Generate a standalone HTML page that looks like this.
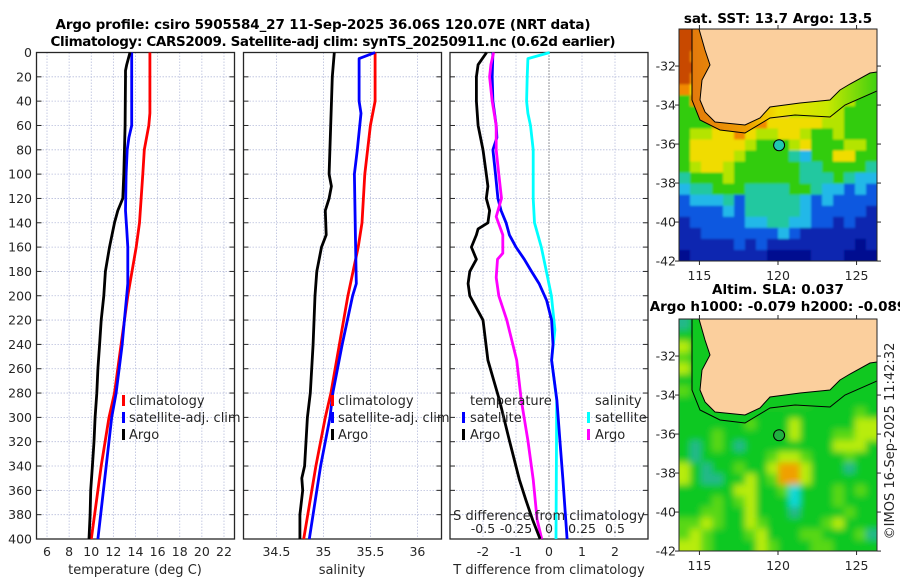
<!DOCTYPE html>
<html><head><meta charset="utf-8"><style>
html,body{margin:0;padding:0;background:#fff;}
svg{display:block;font-family:"DejaVu Sans","Liberation Sans",sans-serif;}
</style></head><body>
<svg id="fig" width="900" height="580" viewBox="0 0 900 580">
<defs>
<filter id="blur3" x="-5%" y="-5%" width="110%" height="110%"><feGaussianBlur stdDeviation="3.5"/></filter>
<filter id="blur1" x="-5%" y="-5%" width="110%" height="110%"><feGaussianBlur stdDeviation="1"/></filter>
<clipPath id="clipTop"><rect x="679" y="29" width="198" height="232"/></clipPath>
<clipPath id="clipBot"><rect x="679" y="319" width="198" height="232"/></clipPath>
<linearGradient id="bandGrad" x1="679" x2="877" y1="0" y2="0" gradientUnits="userSpaceOnUse">
<stop offset="0" stop-color="#e07010"/><stop offset="0.35" stop-color="#f0a000"/><stop offset="0.5" stop-color="#f0e000"/><stop offset="0.75" stop-color="#c8e800"/><stop offset="1" stop-color="#40d010"/>
</linearGradient>
</defs>
<text x="323" y="29" font-size="13.5" font-weight="bold" text-anchor="middle" fill="#000" textLength="535">Argo profile: csiro 5905584_27 11-Sep-2025 36.06S 120.07E (NRT data)</text>
<text x="333" y="46" font-size="13.5" font-weight="bold" text-anchor="middle" fill="#000" textLength="565">Climatology: CARS2009. Satellite-adj clim: synTS_20250911.nc (0.62d earlier)</text>
<text x="778" y="23" font-size="13.5" font-weight="bold" text-anchor="middle">sat. SST: 13.7 Argo: 13.5</text>
<text x="778" y="294" font-size="13.5" font-weight="bold" text-anchor="middle">Altim. SLA: 0.037</text>
<text x="778" y="311" font-size="13.5" font-weight="bold" text-anchor="middle">Argo h1000: -0.079 h2000: -0.089</text>
<text transform="translate(894,441) rotate(-90)" font-size="13" text-anchor="middle" fill="#262626">©IMOS 16-Sep-2025 11:42:32</text>
</svg>
<script>
// ---- profile data (depth in dbar) ----
const depthTicks=[0,20,40,60,80,100,120,140,160,180,200,220,240,260,280,300,320,340,360,380,400];
const tArgoDepth=[0,10,15,20,60,100,120,130,140,160,180,200,220,240,260,280,300,320,340,360,380,400];
const tArgo=[13.5,13.2,13.1,13.1,13.06,12.94,12.85,12.4,12.1,11.65,11.28,11.13,10.9,10.75,10.6,10.5,10.35,10.25,10.1,9.95,9.9,9.8];
const tClimDepth=[0,50,60,80,100,140,160,200,240,280,300,340,400];
const tClim=[15.3,15.3,15.2,14.8,14.66,14.36,14.06,13.3,12.7,12.1,11.6,10.9,10.0];
const tSatDepth=[0,60,70,80,100,130,145,160,190,200,220,240,280,300,340,400];
const tSat=[13.66,13.66,13.4,13.25,13.15,13.1,13.2,13.3,13.3,13.2,13.0,12.8,12.25,11.85,11.35,10.6];
const sArgoDepth=[0,20,100,110,120,130,150,160,180,200,240,280,300,340,350,360,380,400];
const sArgo=[35.116,35.095,35.06,35.085,35.06,35.02,35.03,34.98,34.93,34.91,34.89,34.86,34.83,34.8,34.77,34.78,34.75,34.75];
const sClimDepth=[0,40,60,100,140,160,200,240,280,300,340,400];
const sClim=[35.55,35.55,35.5,35.44,35.41,35.37,35.26,35.17,35.08,35.02,34.92,34.79];
const sSatDepth=[0,5,40,50,80,100,150,190,200,240,280,300,340,400];
const sSat=[35.55,35.38,35.38,35.4,35.36,35.33,35.34,35.35,35.31,35.2,35.1,35.07,34.97,34.85];
const dTArgoDepth=[0,10,20,40,60,80,100,110,120,130,140,145,150,160,170,180,190,200,220,253,286,319,351,368,384,400];
const dTArgo=[-1.89,-2.15,-2.2,-2.2,-2.15,-2.0,-1.9,-1.85,-1.9,-1.8,-1.85,-2.15,-2.2,-2.35,-2.2,-2.4,-2.45,-2.4,-2.0,-1.85,-1.5,-1.2,-0.9,-0.7,-0.5,-0.27];
const dTSatDepth=[0,20,40,60,70,80,100,120,130,140,150,160,170,180,190,204,220,240,253,286,319,351,400];
const dTSat=[-1.7,-1.72,-1.7,-1.6,-1.58,-1.7,-1.62,-1.55,-1.45,-1.3,-1.2,-1.0,-0.75,-0.53,-0.3,-0.07,0.08,0.12,0.08,0.24,0.33,0.42,0.55];
const dSArgoDepth=[0,10,20,40,60,80,100,120,135,150,165,170,185,200,220,253,286,319,351,384,400];
const dSArgo=[-0.42,-0.44,-0.45,-0.43,-0.4,-0.4,-0.38,-0.36,-0.4,-0.35,-0.35,-0.39,-0.4,-0.38,-0.32,-0.245,-0.21,-0.16,-0.12,-0.09,-0.055];
const dSSatDepth=[0,5,20,40,50,60,80,100,120,140,160,180,200,228,253,286,400];
const dSSat=[0.005,-0.16,-0.165,-0.17,-0.16,-0.14,-0.12,-0.12,-0.12,-0.11,-0.058,-0.02,0.018,0.045,0.02,0.058,0.053];
const tTicks=[6,8,10,12,14,16,18,20,22];
const sTicks=[34.5,35,35.5,36];
const dTicks=[-2,-1,0,1,2];
const dSTickLabels=["-0.5","-0.25","0","0.25","0.5"];
const dSTickVals=[-0.5,-0.25,0,0.25,0.5];
// ---- map data (coarse grids, rows north->south) ----
const sstGrid=[
"RROXXXXXXXXXXXXXXX","RROXXXXXXXXXXXXXXX","ROOXXXXXXXXXXXXXXX","RROLXXXXXXXXXXXXXX",
"ROOLXXXXXXXXXXXXLG","OYOOXXXXXXXXXXXLGG","GOOOXXXXXXXXXXLLGG","GGOOOXXXXXLLLYLGGG",
"GGGOOOOOYYYYYLLGGG","GLLYYOYLLYYLGGLGGG","GYYYYYLGGGLYGGGLLG","GYYYYLGGGGTCGGYYGG",
"GLYYLGGGGGGTTGGGGT","TGGGLGGGGGGTTTGTCC","CTTGGGTTTTGGTCCBCB","BCCCTBTTTTTCBCBBBB",
"BBBBCBTTTTTCBBBBBD","DBBBBBCCTTCCBBDBDD","DDBBBBBBBCBDDDDDDD","DDDDDBDBDDDDDDDDND",
"NDDDDDDDNNNNDDDNNN"];
const slaGrid=[
"TGXXXXXXXXXXXXXXXX","GGXXXXXXXXXXXXXXXX","YGXXXXXXXXXXXXXXXX","HGXXXXXXXXXXXXXXXX",
"YGXXXXXXXXXXXXXXGG","GGGXXXXXXXXXXXXGGG","HGGXXXXXXXXXXXGGGG","GGGGXXXXXXXXGGGGGG",
"GGGGGGGGGGGGGGGGHG","GGGGGGHGGGYGGGGGYY","GGGHGGGGGGYGGGHHYY","GTGHGTGGGGGGGGYYYG",
"GTGGGGGGHYYHGGGHGG","YGTGGHGGYOOYGGGTGG","YGTTGGYGHOOYGGGGGG","GGGGGYYGGHCGGGHGHG",
"GGGHGHYGGGCGGGHGGG","GGHHGGYGGGTGGGGHGG","HHYHGGYHGGGGGHYGGG","HYHGGGHYGGGHHGGGHT",
"YYHGGGGYHGGGHHGGGG"];
const latTicks=[-32,-34,-36,-38,-40,-42];
const lonTicks=[115,120,125];
const argoLon=120.07, argoLat=-36.06;

const NS="http://www.w3.org/2000/svg";
const svg=document.getElementById('fig');
function mk(tag,attrs,parent){const e=document.createElementNS(NS,tag);for(const k in attrs)e.setAttribute(k,attrs[k]);(parent||svg).appendChild(e);return e;}
const Y0=52.5,Y1=539;
function yD(d){return Y0+d*(Y1-Y0)/400;}
const panels=[
 {name:'temperature',x0:36.5,x1:234.5,lo:5.05,hi:22.95},
 {name:'salinity',x0:243.5,x1:441.5,lo:34.15,hi:36.256},
 {name:'difference',x0:450,x1:648,lo:-3,hi:3}];
function xf(p,v){return p.x0+(v-p.lo)/(p.hi-p.lo)*(p.x1-p.x0);}
function frame(p,ticks,labels){
  const g=mk('g',{});
  
  
  mk('rect',{x:p.x0,y:Y0,width:p.x1-p.x0,height:Y1-Y0,fill:'#fff'},g);
  ticks.forEach((t,i)=>{const x=xf(p,t);
    const l=mk('line',{x1:x,x2:x,y1:Y0,y2:Y1,stroke:'#b8bedc','stroke-width':0.8,'stroke-dasharray':'1.5,1.5'},g);
    
    if(labels){const tx=mk('text',{x:x,y:556,'font-size':12.5,'text-anchor':'middle',fill:'#262626'},g);tx.textContent=labels[i];
      }
  });
  depthTicks.forEach(d=>{const y=yD(d);
    if(d>0&&d<400)mk('line',{x1:p.x0,x2:p.x1,y1:y,y2:y,stroke:'#b8bedc','stroke-width':0.8,'stroke-dasharray':'1.5,1.5'},g);
    mk('line',{x1:p.x0,x2:p.x0+5,y1:y,y2:y,stroke:'#262626','stroke-width':1},g);
    mk('line',{x1:p.x1-5,x2:p.x1,y1:y,y2:y,stroke:'#262626','stroke-width':1},g);
  });
  mk('rect',{x:p.x0,y:Y0,width:p.x1-p.x0,height:Y1-Y0,fill:'none',stroke:'#262626','stroke-width':1.3},g);
  return g;
}
function line(p,vals,depths,color,name,scale){
  const pts=vals.map((v,i)=>xf(p,v*(scale||1)).toFixed(1)+','+yD(depths[i]).toFixed(1)).join(' ');
  const l=mk('polyline',{points:pts,fill:'none',stroke:color,'stroke-width':2.8,'stroke-linejoin':'round'});
  
  
}
function txt(x,y,s,name,opts){const t=mk('text',Object.assign({x:x,y:y,'font-size':13,fill:'#262626'},opts||{}));t.textContent=s;
  return t;}
function legBar(x,y,c,name){const r=mk('rect',{x:x,y:y-10,width:3,height:11,fill:c});}

const P1=panels[0],P2=panels[1],P3=panels[2];
frame(P1,tTicks,tTicks.map(String));
depthTicks.forEach(d=>{txt(32,yD(d)+4.5,String(d),'y-tick-label',{'text-anchor':'end','font-size':12.5});});
line(P1,tClim,tClimDepth,'#ff0000','temp-climatology-line');
line(P1,tSat,tSatDepth,'#0000ff','temp-satellite-line');
line(P1,tArgo,tArgoDepth,'#000','temp-argo-line');
txt(135,574,'temperature (deg C)','x-axis-title-temperature',{'text-anchor':'middle'});
frame(P2,sTicks,sTicks.map(String));
line(P2,sClim,sClimDepth,'#ff0000','sal-climatology-line');
line(P2,sSat,sSatDepth,'#0000ff','sal-satellite-line');
line(P2,sArgo,sArgoDepth,'#000','sal-argo-line');
txt(342,574,'salinity','x-axis-title-salinity',{'text-anchor':'middle'});
frame(P3,dTicks,dTicks.map(String));
const zl=mk('line',{x1:xf(P3,0),x2:xf(P3,0),y1:Y0,y2:Y1,stroke:'#444','stroke-width':1,'stroke-dasharray':'1,2'});

line(P3,dSSat,dSSatDepth,'#00ffff','sal-diff-satellite-line',4);
line(P3,dTSat,dTSatDepth,'#0000ff','temp-diff-satellite-line');
line(P3,dSArgo,dSArgoDepth,'#ff00ff','sal-diff-argo-line',4);
line(P3,dTArgo,dTArgoDepth,'#000','temp-diff-argo-line');
txt(549,574,'T difference from climatology','x-axis-title-tdiff',{'text-anchor':'middle'});
txt(549,520,'S difference from climatology','s-axis-title',{'text-anchor':'middle'});
dSTickVals.forEach((v,i)=>txt(xf(P3,v*4),533,dSTickLabels[i],'s-tick-label',{'text-anchor':'middle','font-size':12.5}));
legBar(122,405,'#ff0000','legend-climatology-marker');txt(129,405,'climatology','legend-climatology');
legBar(122,422,'#0000ff','legend-satellite-marker');txt(129,422,'satellite-adj. clim','legend-satellite');
legBar(122,439,'#000','legend-argo-marker');txt(129,439,'Argo','legend-argo');
legBar(331,405,'#ff0000','legend2-climatology-marker');txt(338,405,'climatology','legend2-climatology');
legBar(331,422,'#0000ff','legend2-satellite-marker');txt(338,422,'satellite-adj. clim','legend2-satellite');
legBar(331,439,'#000','legend2-argo-marker');txt(338,439,'Argo','legend2-argo');
txt(470,405,'temperature','legend3-temperature-header');
legBar(462,422,'#0000ff','legend3-tsat-marker');txt(470,422,'satellite','legend3-tsat');
legBar(462,439,'#000','legend3-targo-marker');txt(470,439,'Argo','legend3-targo');
txt(595,405,'salinity','legend3-salinity-header');
legBar(587,422,'#00ffff','legend3-ssat-marker');txt(595,422,'satellite','legend3-ssat');
legBar(587,439,'#ff00ff','legend3-sargo-marker');txt(595,439,'Argo','legend3-sargo');

// ---- maps ----
const MX0=679,MX1=877,LON0=113.7,LON1=126.3,LAT0=-30.1;
const sstCol={R:'#c84a00',O:'#f08a00',Y:'#f0dc00',L:'#b4e400',G:'#30cc10',T:'#20c8a0',C:'#20b8e8',B:'#1058e0',D:'#0828b0',N:'#001090',X:'#e8b060'};
const slaCol={G:'#10c820',H:'#58d818',Y:'#b8ec10',O:'#f0a000',T:'#20b88a',C:'#10d8d8',X:'#30c820'};
function lonX(l){return MX0+(l-LON0)/(LON1-LON0)*(MX1-MX0);}
function drawMap(top,grid,cols,name,dotColor,bandFill,blurId,clipId){
  const g=mk('g',{});
  const H=232, latY=lat=>top+(LAT0-lat)*19.5;
  const cw=(MX1-MX0)/grid[0].length, ch=H/grid.length;
  const cg=mk('g',{'clip-path':'url(#'+clipId+')'},g);
  const cells=mk('g',{filter:'url(#'+blurId+')'},cg);
  grid.forEach((row,r)=>{for(let c=0;c<row.length;c++){
    mk('rect',{x:(MX0+c*cw-(c==0?6:0)).toFixed(2),y:(top+r*ch-(r==0?6:0)).toFixed(2),width:(cw+0.5+(c==0||c==row.length-1?6:0)).toFixed(2),height:(ch+0.5+(r==0||r==grid.length-1?6:0)).toFixed(2),fill:cols[row[c]]},cells);}});
  const o=top-29;
  const coast=[[699,29],[705,50],[710,65],[702,80],[700,100],[705,112],[715,122],[745,125],[760,118],[770,107],[800,103],[830,100],[840,90],[850,84],[870,73],[877,72]];
  const iso=[[692,29],[692,100],[700,120],[720,130],[745,133],[770,118],[795,115],[830,117],[845,105],[877,91]];
  const cp=coast.map(p=>p[0]+','+(p[1]+o)).join(' ');
  const ip=iso.map(p=>p[0]+','+(p[1]+o)).join(' ');
  const band=mk('polygon',{points:cp+' '+iso.slice().reverse().map(p=>p[0]+','+(p[1]+o)).join(' '),fill:bandFill},cg);
  
  const land=mk('polygon',{points:cp+' 877,'+(29+o),fill:'#fbcf9d'},cg);
  
  mk('polyline',{points:cp,fill:'none',stroke:'#000','stroke-width':1},cg);
  mk('polyline',{points:ip,fill:'none',stroke:'#000','stroke-width':1},cg);
  const dot=mk('circle',{cx:lonX(argoLon),cy:latY(argoLat),r:5.5,fill:dotColor,stroke:'#000','stroke-width':1},g);
  
  mk('rect',{x:MX0,y:top,width:MX1-MX0,height:H,fill:'none',stroke:'#262626','stroke-width':1},g);
  latTicks.forEach(l=>{const y=latY(l);
    mk('line',{x1:MX0-4,x2:MX0,y1:y,y2:y,stroke:'#262626'},g);mk('line',{x1:MX1,x2:MX1+4,y1:y,y2:y,stroke:'#262626'},g);
    txt(676,y+4.5,String(l),'lat-tick-label',{'text-anchor':'end','font-size':12.5});});
  lonTicks.forEach(l=>{const x=lonX(l);
    mk('line',{x1:x,x2:x,y1:top+H,y2:top+H+4,stroke:'#262626'},g);mk('line',{x1:x,x2:x,y1:top-4,y2:top,stroke:'#262626'},g);
    txt(x,top+H+19,String(l),'lon-tick-label',{'text-anchor':'middle','font-size':12.5});});
}
drawMap(29,sstGrid,sstCol,'sst-map','#20c8b0','url(#bandGrad)','blur1','clipTop');
drawMap(319,slaGrid,slaCol,'sla-map','#20b040','#10c820','blur3','clipBot');
</script>
</body></html>
